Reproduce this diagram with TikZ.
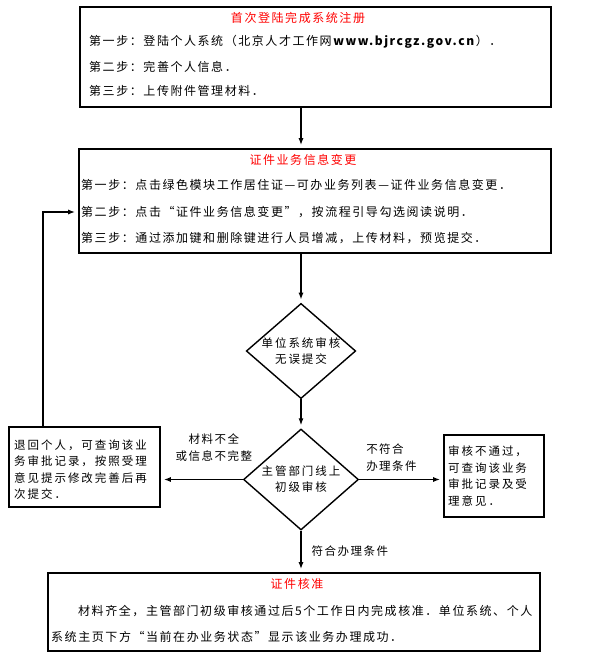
\documentclass[tikz,border=0pt]{standalone}
\usepackage{fontspec}
\setmainfont{Noto Sans CJK SC}
\newfontfamily\cjk{Noto Sans CJK SC}[LetterSpace=13]
\newfontfamily\cjkwide{Noto Sans CJK SC}[LetterSpace=17]
\usetikzlibrary{shapes.geometric, arrows.meta, positioning}

\begin{document}
\begin{tikzpicture}[
        x=1pt, y=-1pt,
        >={Latex[length=7pt, width=5pt]},
        box/.style={draw, line width=1.6pt, inner sep=0pt},
        check/.style={diamond, draw, line width=1.4pt, inner sep=0pt, aspect=1.15, align=center,
            font=\cjkwide\fontsize{11.5}{16}\selectfont},
        flow/.style={->, line width=1.3pt, shorten >=3pt},
        title/.style={text=red, font=\cjk\fontsize{12}{14}\selectfont},
        steptext/.style={anchor=west, inner sep=0pt, font=\cjk\fontsize{12}{14}\selectfont},
        note/.style={inner sep=0pt, font=\cjk\fontsize{11.5}{17}\selectfont}
    ]
    \useasboundingbox (0,0) rectangle (597,655);

    % first box: registration
    \node[box, minimum width=471pt, minimum height=100pt] (reg) at (315.5,57) {};
    \node[title] (regtitle) at (298,18) {首次登陆完成系统注册};
    \node[steptext] (regone) at (89,42) {第一步：登陆个人系统（北京人才工作网\textbf{www.bjrcgz.gov.cn}）．};
    \node[steptext] (regtwo) at (89,67) {第二步：完善个人信息．};
    \node[steptext] (regthree) at (89,91) {第三步：上传附件管理材料．};

    % second box: change of certificate data
    \node[box, minimum width=472pt, minimum height=104pt] (change) at (315,201) {};
    \node[title] (changetitle) at (303,160) {证件业务信息变更};
    \node[steptext] (changeone) at (81,185) {第一步：点击绿色模块工作居住证—可办业务列表—证件业务信息变更．};
    \node[steptext] (changetwo) at (81,212) {第二步：点击“证件业务信息变更”，按流程引导勾选阅读说明．};
    \node[steptext] (changethree) at (81,238) {第三步：通过添加键和删除键进行人员增减，上传材料，预览提交．};

    % decisions
    \node[check, minimum width=109pt, minimum height=88pt] (unitcheck) at (301,351) {单位系统审核\\无误提交};
    \node[check, minimum width=115pt, minimum height=101pt] (deptcheck) at (301,479.5) {主管部门线上\\初级审核};

    % side boxes
    \node[box, minimum width=151pt, minimum height=80pt] (back) at (84.5,467) {};
    \node[note, anchor=west, align=left, font=\cjkwide\fontsize{11.5}{16.3}\selectfont] (backtext) at (14,469.5)
        {退回个人，可查询该业\\务审批记录，按照受理\\意见提示修改完善后再\\次提交．};
    \node[box, minimum width=100pt, minimum height=82pt] (reject) at (494,476) {};
    \node[note, anchor=west, align=left, font=\cjkwide\fontsize{11.5}{16.5}\selectfont] (rejecttext) at (448,476)
        {审核不通过，\\可查询该业务\\审批记录及受\\理意见．};

    % last box: approval
    \node[box, minimum width=492pt, minimum height=78pt] (approve) at (294,612) {};
    \node[title] (approvetitle) at (297,584) {证件核准};
    \node[steptext] (approveone) at (78,611) {材料齐全，主管部门初级审核通过后5个工作日内完成核准．单位系统、个人};
    \node[steptext] (approvetwo) at (51,637) {系统主页下方“当前在办业务状态”显示该业务办理成功．};

    % connectors
    \coordinate (fb) at (43,212);
    \draw[flow] (reg.south -| unitcheck.north) -- (change.north -| unitcheck.north);
    \draw[flow] (change.south -| unitcheck.north) -- (unitcheck.north);
    \draw[flow] (unitcheck.south) -- (deptcheck.north);
    \draw[flow] (deptcheck.west) -- (deptcheck.west -| back.east)
        node[note, midway, above=17pt, xshift=12pt, align=center] (lacklabel) {材料不全\\或信息不完整};
    \draw[flow] (deptcheck.east) -- (deptcheck.east -| reject.west)
        node[note, pos=0.1, above right=7pt and -2pt, anchor=south west, align=left] (unfitlabel) {不符合\\办理条件};
    \draw[flow] (deptcheck.south) -- (deptcheck.south |- approve.north)
        node[note, midway, right=10pt] (fitlabel) {符合办理条件};
    \draw[flow] (back.north -| fb) -- (fb) -- (fb -| change.west);

\end{tikzpicture}
\end{document}
